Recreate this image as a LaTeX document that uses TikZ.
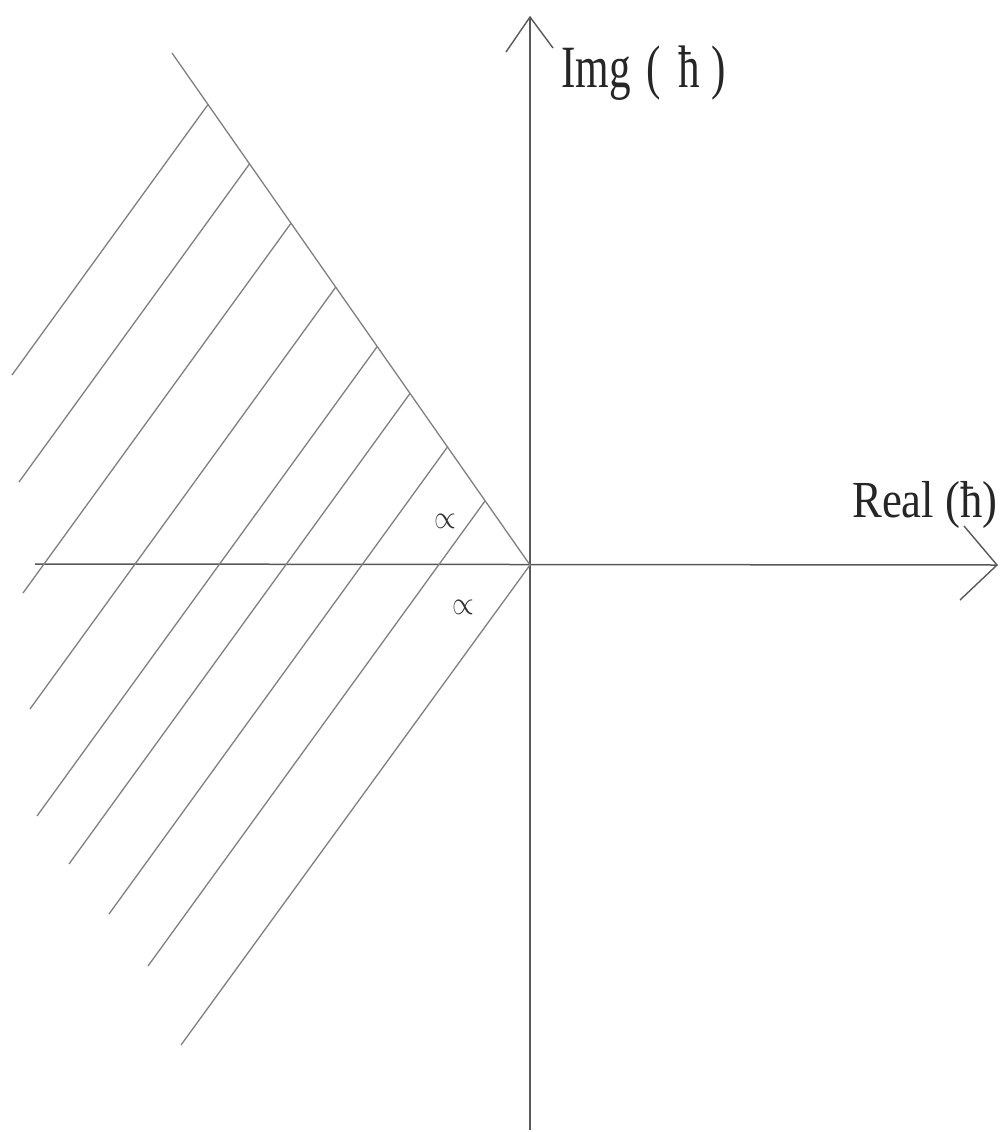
\documentclass[tikz,border=0pt]{standalone}
\usepackage{graphicx}
\usepackage{fontspec}
\setmainfont{Liberation Serif}
\usetikzlibrary{calc}
\newcommand{\myprop}{\scalebox{2.8}[3.3]{$\propto$}}
\begin{document}
\begin{tikzpicture}[x=1pt,y=-1pt,
  axisline/.style={draw=black!65, line width=1.5pt},
  hatchline/.style={draw=black!50, line width=1.3pt},
  tipline/.style={draw=black!65, line width=1.4pt},
  lbl/.style={inner sep=0pt, text=black!85},
  anglbl/.style={inner sep=0pt, text=black!80}]
\useasboundingbox (0,0) rectangle (1003,1132);
\fill[white] (0,0) rectangle (1003,1132);
% axes
\coordinate (O) at (530,565);
\coordinate (ytop) at (530,17);
\coordinate (ybot) at (530,1130);
\coordinate (xleft) at (35,564);
\coordinate (xright) at (997,565);
\draw[axisline] (ybot) -- (ytop);
\draw[axisline] (xleft) -- (xright);
% open arrow heads
\coordinate (ytl) at (506,52);
\coordinate (ytr) at (553,48);
\draw[tipline] (ytl) -- (ytop) -- (ytr);
\coordinate (xru) at (964,526);
\coordinate (xrd) at (960,600);
\draw[tipline] (xru) -- (xright) -- (xrd);
% boundary
\coordinate (B0) at (172,53);
\draw[hatchline] (B0) -- (O);
% hatch lines
\foreach \i/\bx/\by in {1/12/375, 2/19/482, 3/23/593, 4/30/709, 5/37/816, 6/69/864, 7/109/914, 8/148/966}{
  \coordinate (b\i) at (\bx,\by);
  \coordinate (d\i) at ($(b\i)+(500,-690)$);
  \coordinate (t\i) at (intersection cs: first line={(b\i)--(d\i)}, second line={(B0)--(O)});
  \draw[hatchline] (b\i) -- (t\i);
}
\coordinate (b9) at (181,1045);
\draw[hatchline] (b9) -- (O);
% labels
\node[lbl, anchor=base west, xscale=0.72, font=\fontsize{60}{60}\selectfont] (img) at (561,88) {Img\hspace{22pt}(\hspace{24pt}ħ\hspace{16pt})};
\node[lbl, anchor=base west, xscale=0.86, font=\fontsize{52}{52}\selectfont] (real) at (852,517) {Real (ħ)};
\node[anglbl] (a1) at (445,521) {\myprop};
\node[anglbl] (a2) at (463,607) {\myprop};
\end{tikzpicture}
\end{document}
